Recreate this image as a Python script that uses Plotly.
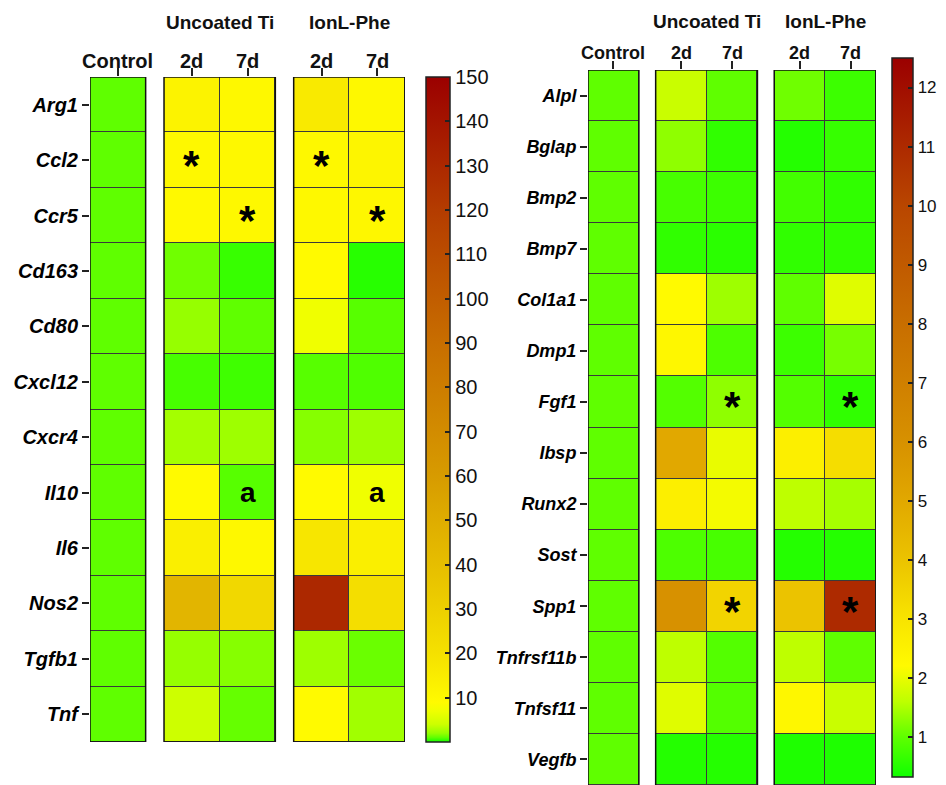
import plotly.graph_objects as go

# ---------------- data ----------------
columns = ["Control", "2d", "7d", "2d", "7d"]
groups = ["Uncoated Ti", "IonL-Phe"]

# Immune / inflammation genes (fold change vs. control)
immune_genes = ["Arg1", "Ccl2", "Ccr5", "Cd163", "Cd80", "Cxcl12", "Cxcr4",
                "Il10", "Il6", "Nos2", "Tgfb1", "Tnf"]
immune_control = [1, 1, 1, 1, 1, 1, 1, 1, 1, 1, 1, 1]
immune_ti_2d = [12, 10, 9.5, 1.3, 2.0, 0.7, 2.5, 9, 14, 45, 2.0, 4.0]
immune_ti_7d = [10, 10, 10, 0.5, 1.0, 0.6, 2.3, 0.9, 10, 25, 1.7, 1.1]
immune_il_2d = [16, 10, 10, 9, 7, 0.9, 1.7, 9, 18, 130, 2.3, 9]
immune_il_7d = [10, 11, 10.5, 0.3, 0.9, 0.8, 2.3, 7, 14, 22, 1.2, 2.4]
immune_marks = [("Ccl2", 1, "*"), ("Ccl2", 3, "*"), ("Ccr5", 2, "*"),
                ("Ccr5", 4, "*"), ("Il10", 2, "a"), ("Il10", 4, "a")]

# Bone-related genes (fold change vs. control)
bone_genes = ["Alpl", "Bglap", "Bmp2", "Bmp7", "Col1a1", "Dmp1", "Fgf1",
              "Ibsp", "Runx2", "Sost", "Spp1", "Tnfrsf11b", "Tnfsf11", "Vegfb"]
bone_control = [1] * 14
bone_ti_2d = [1.7, 1.3, 0.8, 0.6, 2.2, 2.3, 0.9, 5.0, 2.6, 0.85, 6.0, 1.6, 1.9, 0.5]
bone_ti_7d = [1.0, 0.6, 0.7, 0.55, 1.4, 0.85, 1.3, 2.0, 2.1, 0.8, 3.5, 0.9, 0.9, 0.5]
bone_il_2d = [1.1, 0.5, 0.75, 0.6, 1.0, 0.7, 0.9, 2.6, 1.6, 0.5, 4.0, 1.6, 2.3, 0.45]
bone_il_7d = [0.7, 0.65, 0.6, 0.6, 1.9, 1.15, 0.6, 3.2, 1.45, 0.5, 11.0, 1.0, 1.7, 0.45]
bone_marks = [("Fgf1", 2, "*"), ("Fgf1", 4, "*"), ("Spp1", 2, "*"), ("Spp1", 4, "*")]

immune_ticks = list(range(10, 151, 10))
bone_ticks = list(range(1, 13))

# colour stops (value, rgb) for the green-yellow-red scales
immune_stops = [(0, (15, 255, 0)), (1, (95, 255, 0)), (2, (150, 255, 0)),
                (4, (205, 255, 0)), (7, (240, 255, 0)), (9, (255, 250, 0)),
                (20, (245, 225, 0)), (40, (230, 190, 0)), (60, (215, 155, 0)),
                (90, (200, 110, 0)), (120, (180, 60, 0)), (150, (155, 0, 0))]
bone_stops = [(0.32, (15, 255, 0)), (1.0, (95, 255, 0)), (1.6, (190, 255, 0)),
              (2.2, (255, 250, 0)), (3.0, (248, 228, 0)), (4.0, (235, 195, 0)),
              (5.0, (225, 168, 0)), (6.0, (215, 145, 0)), (8.0, (200, 110, 0)),
              (10.0, (185, 70, 0)), (12.5, (155, 0, 0))]

FONT = "Liberation Sans, Arial, sans-serif"
W, H = 946, 785
GAP = 0.33  # width of the blank strip between column blocks, in cell units


def scale(stops):
    lo, hi = stops[0][0], stops[-1][0]
    return [[(v - lo) / (hi - lo), "rgb(%d,%d,%d)" % c] for v, c in stops], lo, hi


def edges():
    g = GAP
    return [0, 1, 1 + g, 2 + g, 3 + g, 3 + 2 * g, 4 + 2 * g, 5 + 2 * g]


def centers():
    e = edges()
    idx = [0, 2, 3, 5, 6]
    return [(e[i] + e[i + 1]) / 2 for i in idx]


def matrix(cols):
    ctrl, a, b, c, d = cols
    return [[ctrl[i], None, a[i], b[i], None, c[i], d[i]] for i in range(len(ctrl))]


fig = go.Figure()

panels = [
    dict(genes=immune_genes,
         cols=[immune_control, immune_ti_2d, immune_ti_7d, immune_il_2d, immune_il_7d],
         marks=immune_marks, stops=immune_stops, ticks=immune_ticks,
         xa="x", ya="y", ca="coloraxis",
         xdom=(90, 405), ydom=(77, 742), open_bottom=False,
         gfs=19, cfs=20, yfs=20, tfs=20, group_y=23, col_y=61, ticklen=8,
         cb=dict(x=426, top=77, bottom=742, thick=24)),
    dict(genes=bone_genes,
         cols=[bone_control, bone_ti_2d, bone_ti_7d, bone_il_2d, bone_il_7d],
         marks=bone_marks, stops=bone_stops, ticks=bone_ticks,
         xa="x2", ya="y2", ca="coloraxis2",
         xdom=(588, 876), ydom=(70, 785), open_bottom=True,
         gfs=19, cfs=18, yfs=18, tfs=17, group_y=22, col_y=53, ticklen=8,
         cb=dict(x=892, top=58, bottom=777, thick=21)),
]

layout = dict(width=W, height=H, margin=dict(l=0, r=0, t=0, b=0, autoexpand=False),
              paper_bgcolor="white", plot_bgcolor="white",
              font=dict(family=FONT, color="black"), showlegend=False)
shapes, annotations = [], []

for k, p in enumerate(panels):
    n = len(p["genes"])
    e = edges()
    c = centers()
    cs, lo, hi = scale(p["stops"])
    fig.add_trace(go.Heatmap(
        z=matrix(p["cols"]), x=e, y=list(range(n)),
        coloraxis=p["ca"], xgap=1, ygap=1, hoverongaps=False,
        xaxis=p["xa"], yaxis=p["ya"]))

    sfx = "" if k == 0 else str(k + 1)
    cb = p["cb"]
    layout["coloraxis" + sfx] = dict(
        colorscale=cs, cmin=lo, cmax=hi,
        colorbar=dict(x=cb["x"] / W, xanchor="left", xpad=0,
                      y=1 - cb["bottom"] / H, yanchor="bottom", ypad=0,
                      len=cb["bottom"] - cb["top"], lenmode="pixels",
                      thickness=cb["thick"], thicknessmode="pixels",
                      outlinewidth=1.5, outlinecolor="#222",
                      tickvals=p["ticks"], ticks="inside", ticklen=5,
                      tickcolor="#222", tickwidth=1.5,
                      tickfont=dict(size=p["tfs"], family=FONT, color="#111")))

    # top axis: tick marks only, the column names are placed as annotations
    layout["xaxis" + sfx] = dict(
        domain=[p["xdom"][0] / W, p["xdom"][1] / W], range=[e[0], e[-1]],
        side="top", anchor=p["ya"], showgrid=False, zeroline=False, showline=False,
        automargin=False, tickvals=c, showticklabels=False,
        ticks="outside", ticklen=p["ticklen"], tickcolor="#222", tickwidth=1.5,
        fixedrange=True)
    layout["yaxis" + sfx] = dict(
        domain=[1 - p["ydom"][1] / H, 1 - p["ydom"][0] / H],
        range=[n - 0.5, -0.5], anchor=p["xa"],
        showgrid=False, zeroline=False, showline=False, automargin=False,
        tickvals=list(range(n)), ticktext=["<b><i>%s</i></b>" % g for g in p["genes"]],
        ticks="outside", ticklen=7, tickcolor="#222", tickwidth=1.5,
        tickfont=dict(size=p["yfs"], family=FONT), fixedrange=True)

    for xc, name in zip(c, columns):
        annotations.append(dict(
            xref=p["xa"], yref="paper", x=xc, y=1 - p["col_y"] / H,
            xanchor="center", yanchor="middle", text="<b>%s</b>" % name,
            showarrow=False, font=dict(size=p["cfs"], family=FONT, color="#111")))

    # column blocks: dark backing (shows through the cell gaps) and black outline
    blocks = [(e[0], e[1]), (e[2], e[4]), (e[5], e[7])]
    y_bot = n - 0.5 + (0.3 if p["open_bottom"] else 0)
    for x0, x1 in blocks:
        shapes.append(dict(type="rect", xref=p["xa"], yref=p["ya"], x0=x0, x1=x1,
                           y0=-0.5, y1=y_bot, layer="below",
                           fillcolor="#3a3a3a", line=dict(width=0)))
        shapes.append(dict(type="rect", xref=p["xa"], yref=p["ya"], x0=x0, x1=x1,
                           y0=-0.5, y1=y_bot, layer="above",
                           fillcolor="rgba(0,0,0,0)", line=dict(color="#111", width=1.5)))

    # group headings above the paired day columns
    for gi, name in enumerate(groups):
        annotations.append(dict(
            xref=p["xa"], yref="paper", x=(c[1 + 2 * gi] + c[2 + 2 * gi]) / 2,
            y=1 - p["group_y"] / H, xanchor="center", yanchor="middle",
            text="<b>%s</b>" % name, showarrow=False,
            font=dict(size=p["gfs"], family=FONT, color="#111")))

    # significance marks
    for gene, col, sym in p["marks"]:
        row = p["genes"].index(gene)
        if sym == "*":
            annotations.append(dict(xref=p["xa"], yref=p["ya"], x=c[col], y=row,
                                    text="<b>*</b>", showarrow=False, yshift=-5,
                                    font=dict(size=42, family=FONT, color="black")))
        else:
            annotations.append(dict(xref=p["xa"], yref=p["ya"], x=c[col], y=row,
                                    text="<b>%s</b>" % sym, showarrow=False, yshift=0,
                                    font=dict(size=28, family=FONT, color="black")))

layout["shapes"] = shapes
layout["annotations"] = annotations
fig.update_layout(**layout)
fig.write_html("out.html")
